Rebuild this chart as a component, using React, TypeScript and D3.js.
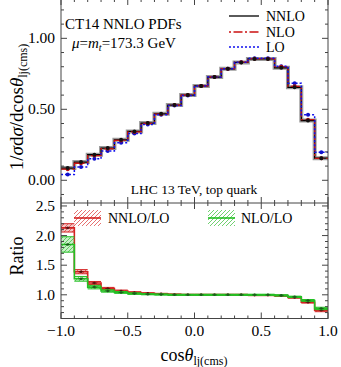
import React from "react";
import * as d3 from "d3";

// bin edges of cos(theta_lj) in the cms frame
const binEdges = [-1, -0.9, -0.8, -0.7, -0.6, -0.5, -0.4, -0.3, -0.2, -0.1, 0, 0.1, 0.2, 0.3, 0.4, 0.5, 0.6, 0.7, 0.8, 0.9, 1];

// normalized distributions
const nnlo = [0.086, 0.128, 0.18, 0.227, 0.285, 0.344, 0.403, 0.468, 0.53, 0.6, 0.665, 0.727, 0.785, 0.83, 0.855, 0.855, 0.792, 0.655, 0.421, 0.156];
const nlo = [0.078, 0.12, 0.174, 0.222, 0.281, 0.341, 0.401, 0.466, 0.53, 0.6, 0.665, 0.728, 0.786, 0.832, 0.857, 0.857, 0.8, 0.662, 0.427, 0.155];
const lo = [0.04, 0.094, 0.151, 0.206, 0.264, 0.329, 0.393, 0.461, 0.527, 0.598, 0.665, 0.727, 0.786, 0.832, 0.86, 0.859, 0.803, 0.684, 0.462, 0.198];

// ratios to LO with their uncertainty half-widths
const ratioNnlo = [2.13, 1.39, 1.2, 1.105, 1.065, 1.04, 1.025, 1.015, 1.005, 1.0, 1.0, 1.0, 1.0, 1.0, 0.995, 0.995, 0.985, 0.955, 0.875, 0.74];
const errNnlo = [0.07, 0.035, 0.025, 0.02, 0.015, 0.012, 0.01, 0.01, 0.01, 0.01, 0.01, 0.01, 0.01, 0.01, 0.01, 0.01, 0.01, 0.012, 0.015, 0.025];
const ratioNlo = [1.85, 1.27, 1.13, 1.065, 1.04, 1.02, 1.01, 1.005, 1.0, 1.0, 1.0, 1.0, 1.0, 1.0, 1.0, 1.0, 0.99, 0.965, 0.905, 0.77];
const errNlo = [0.13, 0.04, 0.03, 0.02, 0.015, 0.012, 0.01, 0.01, 0.01, 0.01, 0.01, 0.01, 0.01, 0.01, 0.01, 0.01, 0.01, 0.012, 0.015, 0.02];

const xTicks = [-1.0, -0.5, 0.0, 0.5, 1.0];
const topTicks = [0.0, 0.5, 1.0];
const ratioTicks = [1.0, 1.5, 2.0, 2.5];

const FONT = "'Liberation Serif', 'Times New Roman', serif";
const W = 341, H = 367;
const L = 61, R = 328;

const x = d3.scaleLinear().domain([-1, 1]).range([L, R]);
const yTop = d3.scaleLinear().domain([-0.16, 1.27]).range([203, 0]);
const yRat = d3.scaleLinear().domain([0.6, 2.55]).range([318.5, 203]);

function stepPath(vals: number[], y: d3.ScaleLinear<number, number>) {
  const pts: [number, number][] = vals.map((v, i) => [binEdges[i], v]);
  pts.push([binEdges[vals.length], vals[vals.length - 1]]);
  return d3.line<[number, number]>().x(d => x(d[0])).y(d => y(d[1])).curve(d3.curveStepAfter)(pts) || "";
}

function frameTicks(y: d3.ScaleLinear<number, number>, yMin: number, yMax: number, yMajor: number[], top: number, bottom: number) {
  const out: React.ReactNode[] = [];
  const xs = d3.range(-10, 11).map(i => i / 10);
  xs.forEach((v, i) => {
    const major = xTicks.some(t => Math.abs(t - v) < 1e-6);
    const len = major ? 6 : 3;
    out.push(<line key={"xb" + i} x1={x(v)} x2={x(v)} y1={bottom} y2={bottom - len} stroke="#444" />);
    out.push(<line key={"xt" + i} x1={x(v)} x2={x(v)} y1={top} y2={top + len} stroke="#444" />);
  });
  const ys = d3.range(Math.ceil(yMin * 10), Math.floor(yMax * 10) + 1).map(i => i / 10);
  ys.forEach((v, i) => {
    const major = yMajor.some(t => Math.abs(t - v) < 1e-6);
    const len = major ? 6 : 3;
    out.push(<line key={"yl" + i} x1={L} x2={L + len} y1={y(v)} y2={y(v)} stroke="#444" />);
    out.push(<line key={"yr" + i} x1={R} x2={R - len} y1={y(v)} y2={y(v)} stroke="#444" />);
  });
  return out;
}

function RatioBand({ vals, errs, color, dark, pat }: { vals: number[]; errs: number[]; color: string; dark: string; pat: string }) {
  return (
    <g>
      {vals.map((v, i) => {
        const x0 = x(binEdges[i]), x1 = x(binEdges[i + 1]);
        const y0 = yRat(v + errs[i]), y1 = yRat(v - errs[i]);
        return (
          <g key={i}>
            <rect x={x0} y={y0} width={x1 - x0} height={y1 - y0} fill={color} fillOpacity={0.25} />
            <rect x={x0} y={y0} width={x1 - x0} height={y1 - y0} fill={`url(#${pat})`} />
            <line x1={x0} x2={x1} y1={y0} y2={y0} stroke={color} strokeWidth={1} />
            <line x1={x0} x2={x1} y1={y1} y2={y1} stroke={color} strokeWidth={1} />
          </g>
        );
      })}
      <path d={stepPath(vals, yRat)} fill="none" stroke={color} strokeWidth={1.6} />
      {vals.map((v, i) => {
        const cx = x((binEdges[i] + binEdges[i + 1]) / 2);
        return (
          <g key={"m" + i}>
            <line x1={cx - 2.5} x2={cx + 2.5} y1={yRat(v)} y2={yRat(v)} stroke={dark} strokeWidth={0.8} />
            <circle cx={cx} cy={yRat(v)} r={1.3} fill={dark} />
          </g>
        );
      })}
    </g>
  );
}

export default function App() {
  const mid = (i: number) => x((binEdges[i] + binEdges[i + 1]) / 2);
  return (
    <svg width={W} height={H} style={{ position: "absolute", left: 0, top: 0, background: "#fff" }} fontFamily={FONT}>
      <defs>
        <pattern id="hatchR" patternUnits="userSpaceOnUse" width={4} height={4}>
          <path d="M-1,1 L1,-1 M0,4 L4,0 M3,5 L5,3" stroke="#dd3333" strokeWidth={0.7} />
        </pattern>
        <pattern id="hatchG" patternUnits="userSpaceOnUse" width={4} height={4}>
          <path d="M-1,1 L1,-1 M0,4 L4,0 M3,5 L5,3" stroke="#33bb33" strokeWidth={0.7} />
        </pattern>
        <clipPath id="clipTop"><rect x={L} y={-2} width={R - L} height={205} /></clipPath>
        <clipPath id="clipRat"><rect x={L} y={203} width={R - L} height={115.5} /></clipPath>
      </defs>

      {/* top panel */}
      <g clipPath="url(#clipTop)">
        <path d={stepPath(nnlo, yTop)} fill="none" stroke="#9a9a9a" strokeWidth={4} />
        <path d={stepPath(nnlo, yTop)} fill="none" stroke="#000" strokeWidth={1.3} />
        <path d={stepPath(nlo, yTop)} fill="none" stroke="#cc1111" strokeWidth={1.3} strokeDasharray="9,2.5,2,2.5" />
        <path d={stepPath(lo, yTop)} fill="none" stroke="#1111ee" strokeWidth={1.5} strokeDasharray="2,2" />
        {lo.map((v, i) => <circle key={"lo" + i} cx={mid(i)} cy={yTop(v)} r={2} fill="#1111cc" />)}
        {nlo.map((v, i) => <circle key={"nlo" + i} cx={mid(i)} cy={yTop(v)} r={2} fill="#bb1111" />)}
        {nnlo.map((v, i) => <circle key={"nn" + i} cx={mid(i)} cy={yTop(v)} r={2} fill="#111" />)}
      </g>
      {frameTicks(yTop, -0.16, 1.27, topTicks, -1, 203)}
      {topTicks.map(t => (
        <text key={t} x={55} y={yTop(t) + 5} textAnchor="end" fontSize={15.5}>{t.toFixed(2)}</text>
      ))}

      <text x={65} y={29} fontSize={15}>CT14 NNLO PDFs</text>
      <text x={72} y={48} fontSize={15}>
        <tspan fontStyle="italic">μ</tspan>=<tspan fontStyle="italic">m</tspan>
        <tspan fontStyle="italic" fontSize={10} dy={3}>t</tspan>
        <tspan dy={-3}>=173.3 GeV</tspan>
      </text>
      <text x={194} y={194} textAnchor="middle" fontSize={13.5}>LHC 13 TeV, top quark</text>

      {/* top legend */}
      <line x1={229} x2={259} y1={16} y2={16} stroke="#000" strokeWidth={1.3} />
      <line x1={229} x2={259} y1={32} y2={32} stroke="#cc1111" strokeWidth={1.3} strokeDasharray="2,2.5,9,2.5" />
      <line x1={229} x2={259} y1={47} y2={47} stroke="#1111ee" strokeWidth={1.5} strokeDasharray="2,2" />
      <text x={266} y={21} fontSize={14}>NNLO</text>
      <text x={266} y={37} fontSize={14}>NLO</text>
      <text x={266} y={52} fontSize={14}>LO</text>

      {/* ratio panel */}
      <g clipPath="url(#clipRat)">
        <RatioBand vals={ratioNnlo} errs={errNnlo} color="#d42222" dark="#5a1010" pat="hatchR" />
        <RatioBand vals={ratioNlo} errs={errNlo} color="#22c022" dark="#1c5a1c" pat="hatchG" />
      </g>
      {frameTicks(yRat, 0.6, 2.55, ratioTicks, 203, 318.5)}
      {ratioTicks.map(t => (
        <text key={t} x={55} y={yRat(t) + 5} textAnchor="end" fontSize={15.5}>{t.toFixed(1)}</text>
      ))}
      {xTicks.map(t => (
        <text key={t} x={x(t)} y={336} textAnchor="middle" fontSize={15.5}>{(t < 0 ? "−" : "") + Math.abs(t).toFixed(1)}</text>
      ))}

      {/* ratio legend */}
      <rect x={74} y={210} width={27} height={16} fill="url(#hatchR)" />
      <line x1={74} x2={101} y1={218} y2={218} stroke="#d42222" strokeWidth={1.6} />
      <text x={108} y={223} fontSize={14}>NNLO/LO</text>
      <rect x={208} y={210} width={27} height={16} fill="url(#hatchG)" />
      <line x1={208} x2={235} y1={218} y2={218} stroke="#22c022" strokeWidth={1.6} />
      <text x={241} y={223} fontSize={14}>NLO/LO</text>

      <rect x={L} y={-1} width={R - L} height={319.5} fill="none" stroke="#444" />
      <line x1={L} x2={R} y1={203} y2={203} stroke="#444" />

      {/* axis titles */}
      <text transform="translate(23,107) rotate(-90)" textAnchor="middle" fontSize={19}>
        1/<tspan fontStyle="italic">σ</tspan>d<tspan fontStyle="italic">σ</tspan>/dcos<tspan fontStyle="italic">θ</tspan>
        <tspan fontSize={12} dy={4}>lj(cms)</tspan>
      </text>
      <text transform="translate(23,256) rotate(-90)" textAnchor="middle" fontSize={18}>Ratio</text>
      <text x={194} y={361} textAnchor="middle" fontSize={18}>
        cos<tspan fontStyle="italic">θ</tspan><tspan fontSize={12} dy={4}>lj(cms)</tspan>
      </text>
    </svg>
  );
}
